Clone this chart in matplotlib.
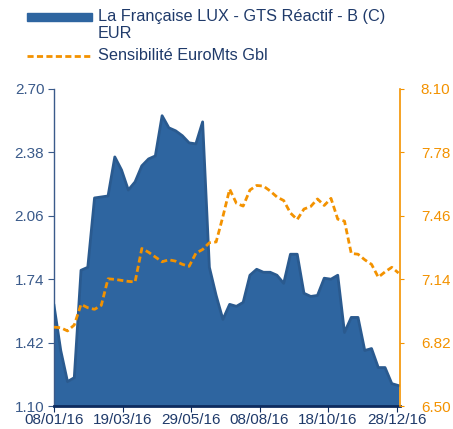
import numpy as np
import pandas as pd
import matplotlib
matplotlib.use("Agg")
import matplotlib.pyplot as plt
import matplotlib.dates as mdates
from matplotlib.patches import Rectangle
from matplotlib.lines import Line2D

plt.rcParams['font.family'] = ['Liberation Sans', 'DejaVu Sans']

# weekly dates, 08/01/16 -> 30/12/16
dates = pd.date_range("2016-01-08", periods=52, freq="7D")

fund = [1.608, 1.380, 1.223, 1.243, 1.785, 1.800, 2.150, 2.155, 2.160, 2.357,
        2.291, 2.190, 2.231, 2.312, 2.347, 2.362, 2.565, 2.504, 2.489, 2.464,
        2.428, 2.423, 2.534, 1.800, 1.658, 1.537, 1.613, 1.603, 1.623, 1.760,
        1.790, 1.775, 1.775, 1.760, 1.719, 1.866, 1.866, 1.669, 1.653, 1.658,
        1.745, 1.740, 1.760, 1.471, 1.547, 1.547, 1.380, 1.390, 1.294, 1.294,
        1.213, 1.203]

sensi = [6.898, 6.895, 6.879, 6.909, 7.013, 6.996, 6.988, 7.008, 7.142, 7.139,
         7.134, 7.129, 7.126, 7.295, 7.276, 7.252, 7.228, 7.238, 7.231, 7.215,
         7.205, 7.271, 7.290, 7.324, 7.328, 7.456, 7.594, 7.523, 7.509, 7.590,
         7.613, 7.610, 7.585, 7.555, 7.537, 7.474, 7.441, 7.494, 7.507, 7.545,
         7.512, 7.548, 7.443, 7.433, 7.270, 7.266, 7.238, 7.215, 7.150, 7.177,
         7.200, 7.171]

left_ticks = [1.10, 1.42, 1.74, 2.06, 2.38, 2.70]
right_ticks = [6.50, 6.82, 7.14, 7.46, 7.78, 8.10]
x_ticks = ["2016-01-08", "2016-03-19", "2016-05-29", "2016-08-08", "2016-10-18", "2016-12-28"]

blue = "#2e65a0"
blue_edge = "#2a5a8f"
navy = "#0d2b5e"
lab_blue = "#3a5a8a"
orange = "#f39200"
txt = "#1f3a6a"
dash = (2.2, 1.2)

fig = plt.figure(figsize=(4.53, 4.29), dpi=100)
ax = fig.add_axes([0.1192, 0.0536, 0.7638, 0.739])
ax2 = ax.twinx()

ax.fill_between(dates, fund, 1.10, color=blue, linewidth=0, zorder=2)
ax.plot(dates, fund, color=blue_edge, linewidth=2.0, zorder=3)
ax2.plot(dates, sensi, color=orange, linewidth=2.0, dashes=dash, zorder=4)

ax.set_ylim(1.10, 2.70)
ax2.set_ylim(6.50, 8.10)
ax.set_xlim(pd.Timestamp("2016-01-08"), pd.Timestamp("2016-12-31 12:00"))

ax.set_yticks(left_ticks)
ax.set_yticklabels(["%.2f" % v for v in left_ticks])
ax2.set_yticks(right_ticks)
ax2.set_yticklabels(["%.2f" % v for v in right_ticks])
ax.set_xticks([pd.Timestamp(d) for d in x_ticks])
ax.xaxis.set_major_formatter(mdates.DateFormatter("%d/%m/%y"))

for a in (ax, ax2):
    a.spines['top'].set_visible(False)
ax.spines['right'].set_visible(False)
ax2.spines['left'].set_visible(False)
ax2.spines['bottom'].set_visible(False)
ax.spines['left'].set_color(lab_blue)
ax.spines['left'].set_linewidth(1.0)
ax.spines['bottom'].set_color(navy)
ax.spines['bottom'].set_linewidth(2.0)
ax2.spines['right'].set_color(orange)
ax2.spines['right'].set_linewidth(1.2)

ax.tick_params(axis='y', colors=lab_blue, labelsize=11, length=4, width=0.8, pad=3)
ax.tick_params(axis='x', colors=navy, labelcolor=txt, labelsize=11, length=4, width=0.8, pad=1)
ax2.tick_params(axis='y', colors=orange, labelsize=11, length=3, width=0.8, pad=12)

ax.set_zorder(1)
ax2.set_zorder(2)
ax.patch.set_visible(False)

# legend drawn at figure level to match layout
fig.patches.append(Rectangle((27 / 453, 1 - 21 / 429), 65 / 453, 8 / 429,
                             transform=fig.transFigure, color=blue, zorder=5))
fig.lines.append(Line2D([27 / 453, 92 / 453], [1 - 56 / 429, 1 - 56 / 429],
                        transform=fig.transFigure, color=orange, linewidth=2.0,
                        dashes=dash))
fig.text(98 / 453, 1 - 16 / 429, "La Française LUX - GTS Réactif - B (C)",
         color=txt, fontsize=11.7, va='center', ha='left')
fig.text(98 / 453, 1 - 33 / 429, "EUR",
         color=txt, fontsize=11.7, va='center', ha='left')
fig.text(98 / 453, 1 - 56 / 429, "Sensibilité EuroMts Gbl",
         color=txt, fontsize=11.7, va='center', ha='left')

fig.savefig("out.png", dpi=100)
